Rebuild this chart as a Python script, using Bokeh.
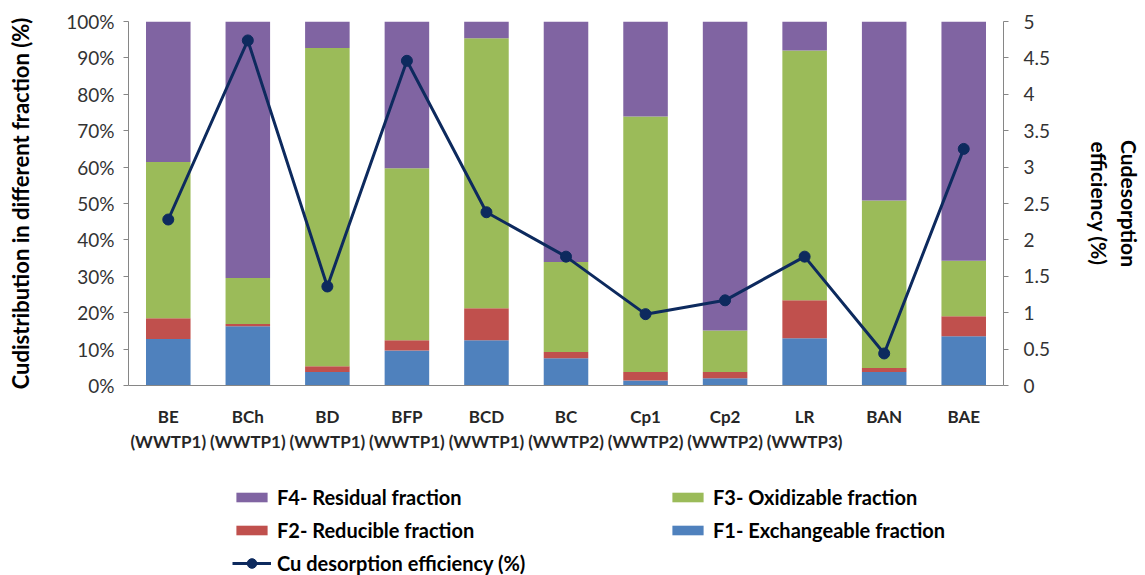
from bokeh.plotting import figure
from bokeh.layouts import column
from bokeh.models import (ColumnDataSource, Range1d, LinearAxis, SingleIntervalTicker,
                          NumeralTickFormatter, PrintfTickFormatter, Legend, LegendItem)
from bokeh.embed import file_html
from bokeh.resources import INLINE

categories = ["BE\n(WWTP1)", "BCh\n(WWTP1)", "BD\n(WWTP1)", "BFP\n(WWTP1)", "BCD\n(WWTP1)",
              "BC\n(WWTP2)", "Cp1\n(WWTP2)", "Cp2\n(WWTP2)", "LR\n(WWTP3)", "BAN", "BAE"]
f1_exchangeable = [12.8, 16.3, 3.7, 9.6, 12.4, 7.5, 1.4, 2.0, 13.0, 3.7, 13.5]
f2_reducible = [5.7, 0.6, 1.6, 2.8, 8.8, 1.7, 2.3, 1.7, 10.4, 1.1, 5.5]
f3_oxidizable = [42.9, 12.6, 87.4, 47.3, 74.2, 24.7, 70.2, 11.4, 68.6, 46.0, 15.3]
f4_residual = [38.6, 70.5, 7.3, 40.3, 4.6, 66.1, 26.1, 84.9, 8.0, 49.2, 65.7]
cu_desorption = [2.28, 4.74, 1.36, 4.46, 2.38, 1.77, 0.98, 1.17, 1.77, 0.44, 3.25]
series_labels = ["F1- Exchangeable fraction", "F2- Reducible fraction",
                 "F3- Oxidizable fraction", "F4- Residual fraction"]
line_label = "Cu desorption efficiency (%)"

colors = ["#4F81BD", "#C0504D", "#9BBB59", "#8064A2"]
navy = "#0D2A5E"
FONT = "Lato"

source = ColumnDataSource(dict(cat=categories, F1=f1_exchangeable, F2=f2_reducible,
                               F3=f3_oxidizable, F4=f4_residual, eff=cu_desorption))

p = figure(x_range=categories, y_range=Range1d(0, 100), width=1145, height=470,
           output_backend="svg", toolbar_location=None,
           min_border_left=128, min_border_right=127, min_border_top=21, min_border_bottom=85)
p.extra_y_ranges = {"eff": Range1d(0, 5)}
p.x_range.range_padding = 0

bars = p.vbar_stack(["F1", "F2", "F3", "F4"], x="cat", width=0.56, color=colors,
                    line_color=None, source=source)
ln = p.line(x="cat", y="eff", source=source, y_range_name="eff", line_width=3, color=navy)
mk = p.scatter(x="cat", y="eff", source=source, y_range_name="eff", size=11,
               marker="circle", color=navy)

p.outline_line_color = None
p.xgrid.visible = False
p.ygrid.visible = False

axis_grey = "#868686"
# left axis
ya = p.yaxis[0]
ya.ticker = SingleIntervalTicker(interval=10)
ya.formatter = PrintfTickFormatter(format="%d%%")
ya.axis_label = "Cudistribution in different fraction (%)"
ya.axis_label_text_font = FONT
ya.axis_label_text_font_style = "bold"
ya.axis_label_text_font_size = "22px"
ya.axis_label_text_color = "black"
ya.axis_label_standoff = 29
ya.major_label_text_font = FONT
ya.major_label_text_font_size = "19px"
ya.major_label_text_color = "#333333"
ya.major_label_standoff = 9
ya.major_tick_in = 0
ya.major_tick_out = 5
ya.minor_tick_line_color = None
ya.axis_line_color = axis_grey
ya.major_tick_line_color = axis_grey

# right axis
ra = LinearAxis(y_range_name="eff", ticker=SingleIntervalTicker(interval=0.5),
                formatter=NumeralTickFormatter(format="0.[0]"))
ra.axis_label = "Cudesorption\nefficiency (%)"
ra.axis_label_text_font = FONT
ra.axis_label_text_font_style = "bold"
ra.axis_label_text_font_size = "21px"
ra.axis_label_text_color = "black"
ra.axis_label_standoff = 34
ra.major_label_text_font = FONT
ra.major_label_text_font_size = "19px"
ra.major_label_text_color = "#333333"
ra.major_label_standoff = 15
ra.major_tick_in = 0
ra.major_tick_out = 5
ra.minor_tick_line_color = None
ra.axis_line_color = axis_grey
ra.major_tick_line_color = axis_grey
p.add_layout(ra, "right")

xa = p.xaxis[0]
xa.major_label_text_font = FONT
xa.major_label_text_font_style = "bold"
xa.major_label_text_font_size = "17px"
xa.major_label_text_color = "#262626"
xa.major_label_standoff = 14
xa.major_tick_line_color = None
xa.axis_line_color = axis_grey

# legend panel (a second figure holding only the key; its glyphs carry no points)
lp = figure(width=1145, height=105, x_range=Range1d(0, 1), y_range=Range1d(0, 1),
            output_backend="svg", toolbar_location=None,
            min_border_left=0, min_border_right=0, min_border_top=0, min_border_bottom=0)
lp.axis.visible = False
lp.grid.visible = False
lp.outline_line_color = None
nan = float("nan")
key_bars = [lp.vbar(x=[nan], top=[nan], width=0.5, color=c, line_color=None) for c in colors]
key_line = lp.line(x=[nan], y=[nan], line_width=3, color=navy)
key_mark = lp.scatter(x=[nan], y=[nan], size=11, marker="circle", color=navy)

def make_legend(items, loc, gh=12):
    return Legend(items=items, location=loc, orientation="vertical",
                  border_line_color=None, background_fill_alpha=0, padding=0, margin=0,
                  glyph_width=39, glyph_height=gh, label_standoff=6, spacing=9,
                  label_height=20, label_text_font=FONT, label_text_font_style="bold",
                  label_text_font_size="20px", label_text_color="black")

lg1 = make_legend([LegendItem(label=series_labels[3], renderers=[key_bars[3]]),
                   LegendItem(label=series_labels[1], renderers=[key_bars[1]])], (104, 33))
lg2 = make_legend([LegendItem(label=series_labels[2], renderers=[key_bars[2]]),
                   LegendItem(label=series_labels[0], renderers=[key_bars[0]])], (540, 33))
lg3 = make_legend([LegendItem(label=line_label, renderers=[key_line, key_mark])], (104, 0), gh=24)
lp.add_layout(lg1, "center")
lp.add_layout(lg2, "center")
lp.add_layout(lg3, "center")

layout = column(p, lp, spacing=0)
open("out.html", "w").write(file_html(layout, INLINE))
